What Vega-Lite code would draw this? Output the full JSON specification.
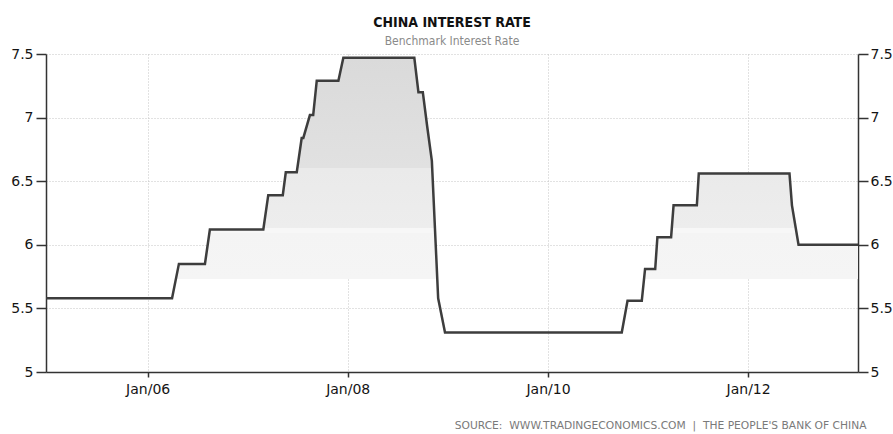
{
  "$schema": "https://vega.github.io/schema/vega-lite/v6.json",
  "width": 812,
  "height": 318,
  "autosize": "none",
  "padding": {"left": 46, "top": 54, "right": 35, "bottom": 62},
  "background": "white",
  "title": {
    "text": "CHINA INTEREST RATE",
    "subtitle": "Benchmark Interest Rate",
    "anchor": "middle",
    "frame": "group",
    "font": "DejaVu Sans Condensed, DejaVu Sans",
    "fontSize": 14,
    "fontWeight": "bold",
    "color": "#111111",
    "subtitleFont": "DejaVu Sans Condensed, DejaVu Sans",
    "subtitleFontSize": 12,
    "subtitleColor": "#8a8a8a",
    "subtitlePadding": 6,
    "offset": 0
  },
  "data": {
    "values": [
      {"date": "2004-12-26", "rate": 5.58},
      {"date": "2006-03-31", "rate": 5.58},
      {"date": "2006-04-25", "rate": 5.85},
      {"date": "2006-07-29", "rate": 5.85},
      {"date": "2006-08-16", "rate": 6.12},
      {"date": "2007-02-27", "rate": 6.12},
      {"date": "2007-03-17", "rate": 6.39},
      {"date": "2007-05-09", "rate": 6.39},
      {"date": "2007-05-20", "rate": 6.57},
      {"date": "2007-06-29", "rate": 6.57},
      {"date": "2007-07-17", "rate": 6.84},
      {"date": "2007-07-23", "rate": 6.84},
      {"date": "2007-08-16", "rate": 7.02},
      {"date": "2007-08-28", "rate": 7.02},
      {"date": "2007-09-10", "rate": 7.29},
      {"date": "2007-11-28", "rate": 7.29},
      {"date": "2007-12-16", "rate": 7.47},
      {"date": "2008-08-31", "rate": 7.47},
      {"date": "2008-09-15", "rate": 7.2},
      {"date": "2008-10-01", "rate": 7.2},
      {"date": "2008-10-17", "rate": 6.93},
      {"date": "2008-11-03", "rate": 6.66},
      {"date": "2008-11-26", "rate": 5.58},
      {"date": "2008-12-21", "rate": 5.31},
      {"date": "2010-09-27", "rate": 5.31},
      {"date": "2010-10-18", "rate": 5.56},
      {"date": "2010-12-09", "rate": 5.56},
      {"date": "2010-12-21", "rate": 5.81},
      {"date": "2011-01-27", "rate": 5.81},
      {"date": "2011-02-04", "rate": 6.06},
      {"date": "2011-03-26", "rate": 6.06},
      {"date": "2011-04-04", "rate": 6.31},
      {"date": "2011-06-28", "rate": 6.31},
      {"date": "2011-07-05", "rate": 6.56},
      {"date": "2012-05-31", "rate": 6.56},
      {"date": "2012-06-09", "rate": 6.31},
      {"date": "2012-07-03", "rate": 6.0},
      {"date": "2013-02-05", "rate": 6.0}
    ]
  },
  "config": {
    "view": {"stroke": null},
    "axis": {
      "labelFont": "DejaVu Sans",
      "labelFontSize": 14,
      "labelColor": "#141414",
      "domainColor": "#333333",
      "domainWidth": 1.5,
      "tickColor": "#333333",
      "tickWidth": 1.5,
      "gridColor": "#c4c4c4",
      "gridDash": [1, 2],
      "gridWidth": 1
    }
  },
  "encoding": {
    "x": {
      "field": "date",
      "type": "temporal",
      "scale": {
        "type": "utc",
        "domain": [
          {"year": 2004, "month": 12, "date": 26, "utc": true},
          {"year": 2013, "month": 2, "date": 5, "utc": true}
        ]
      },
      "axis": {
        "values": [
          {"year": 2006, "month": 1, "date": 1, "utc": true},
          {"year": 2008, "month": 1, "date": 1, "utc": true},
          {"year": 2010, "month": 1, "date": 1, "utc": true},
          {"year": 2012, "month": 1, "date": 1, "utc": true}
        ],
        "format": "%b/%y",
        "grid": true,
        "tickSize": 5,
        "labelPadding": 5,
        "title": "SOURCE:\u00a0\u00a0WWW.TRADINGECONOMICS.COM\u00a0\u00a0|\u00a0\u00a0THE PEOPLE'S BANK OF CHINA",
        "titleFont": "DejaVu Sans",
        "titleFontSize": 10.7,
        "titleFontWeight": "normal",
        "titleColor": "#7a7a7a",
        "titleAnchor": "end",
        "titleAlign": "right",
        "titleBaseline": "top",
        "titleX": 820,
        "titleY": 48
      }
    },
    "y": {
      "field": "rate",
      "type": "quantitative",
      "scale": {"domain": [5, 7.5], "zero": false, "nice": false}
    }
  },
  "layer": [
    {
      "mark": {
        "type": "area",
        "color": {
          "gradient": "linear",
          "x1": 0, "y1": 0, "x2": 0, "y2": 1,
          "stops": [
            {"offset": 0, "color": "#dadada"},
            {"offset": 0.35, "color": "#e1e1e1"},
            {"offset": 0.352, "color": "#eaeaea"},
            {"offset": 0.54, "color": "#ededed"},
            {"offset": 0.542, "color": "#f7f7f7"},
            {"offset": 0.556, "color": "#f7f7f7"},
            {"offset": 0.558, "color": "#f4f4f4"},
            {"offset": 0.703, "color": "#f5f5f5"},
            {"offset": 0.705, "color": "rgba(255,255,255,0)"},
            {"offset": 1, "color": "rgba(255,255,255,0)"}
          ]
        }
      },
      "encoding": {
        "y": {
          "field": "rate",
          "type": "quantitative",
          "title": null,
          "axis": {
            "orient": "left",
            "values": [5, 5.5, 6, 6.5, 7, 7.5],
            "format": "~g",
            "grid": true,
            "tickSize": 10,
            "labelPadding": 3
          }
        },
        "y2": {"datum": 5}
      }
    },
    {
      "mark": {"type": "line", "color": "#3d3d3d", "strokeWidth": 2.5},
      "encoding": {
        "y": {
          "field": "rate",
          "type": "quantitative",
          "title": null,
          "axis": {
            "orient": "right",
            "values": [5, 5.5, 6, 6.5, 7, 7.5],
            "format": "~g",
            "grid": false,
            "tickSize": 10,
            "labelPadding": 2
          }
        }
      }
    }
  ],
  "resolve": {"axis": {"y": "independent"}}
}
